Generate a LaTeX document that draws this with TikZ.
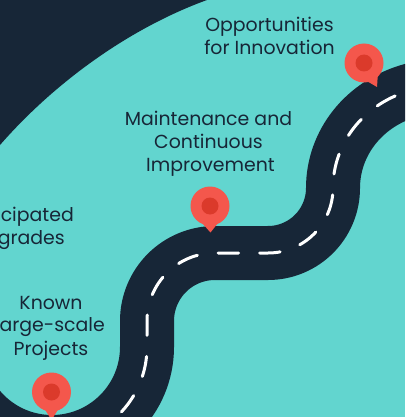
\documentclass[tikz,border=0pt]{standalone}
\usepackage{fontspec}
\setmainfont{Poppins}
\usepackage{tikz}
\definecolor{sea}{HTML}{62D5CF}
\definecolor{ink}{HTML}{172637}
\definecolor{pinred}{HTML}{F4574C}
\definecolor{pincore}{HTML}{DB3A2B}
\tikzset{
  lbl/.style={font=\fontsize{18.9}{23.3}\selectfont, text=ink, align=center, inner sep=0pt},
  road/.style={draw=ink, line width=54pt},
  dashline/.style={draw=white, line width=3pt, line cap=round, dash pattern=on 20.5pt off 21pt, dash phase=22pt},
  pinhead/.style={circle, fill=pinred, minimum size=39pt, inner sep=0pt},
  pincenter/.style={circle, fill=pincore, minimum size=17pt, inner sep=0pt}
}
\begin{document}
\begin{tikzpicture}[x=1pt, y=-1pt]
  \useasboundingbox (0,0) rectangle (405,417);
  \clip (0,0) rectangle (405,417);
  \fill[sea] (0,0) rectangle (405,417);
  \fill[ink] (0,0) -- (207,0) .. controls (130,28) and (55,82) .. (0,145) -- cycle;
  % road centre line
  \def\roadpath{(-43,347) .. controls (-43,399.5) and (-0.5,442) .. (52,442)
    .. controls (104.5,442) and (147,399.5) .. (147,347)
    -- (147,321) .. controls (147,283.4) and (177.4,253) .. (215,253)
    -- (268,253) .. controls (303.9,253) and (333,223.9) .. (333,188)
    .. controls (333,143) and (364,103) .. (412,90) -- (430,86)}
  \path[road] \roadpath;
  \path[dashline] \roadpath;
  % pins
  \node[pinhead] (pinA) at (51.5,392) {};
  \fill[pinred] (44,408) -- (51.5,420) -- (59,408) -- cycle;
  \node[pincenter] at (pinA) {};
  \node[pinhead] (pinB) at (210,206) {};
  \fill[pinred] (202,223) -- (210.5,232.5) -- (218,223) -- cycle;
  \node[pincenter] at (pinB) {};
  \node[pinhead] (pinC) at (364,63) {};
  \fill[pinred] (365,80) -- (377,87) -- (378,72) -- cycle;
  \node[pincenter] at (pinC) {};
  % labels
  \node[lbl] (opp) at (269.5,36) {Opportunities\\for Innovation};
  \node[lbl] (maint) at (208.5,130) {Maintenance and\\Continuous};
  \node[lbl] (impr) at (210.5,167) {Improvement};
  \node[lbl, anchor=east] (cip) at (74,217) {cipated};
  \node[lbl, anchor=east] (gra) at (65,240) {grades};
  \node[lbl] (known) at (51,303) {Known};
  \node[lbl, anchor=east] (large) at (105,327) {arge-scale};
  \node[lbl] (proj) at (51,350.5) {Projects};
\end{tikzpicture}
\end{document}
